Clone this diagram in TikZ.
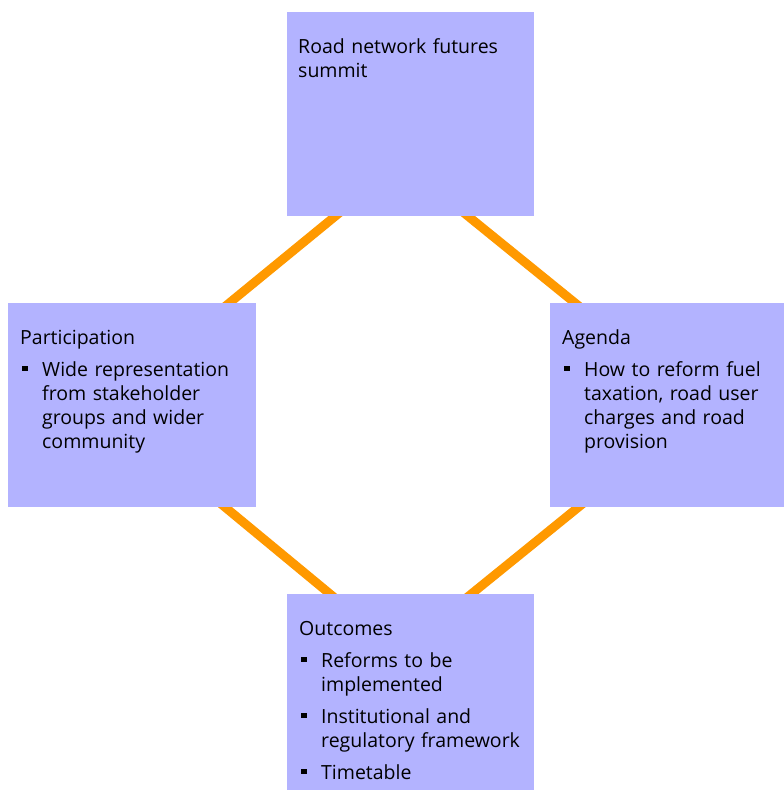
\documentclass[tikz,border=0pt]{standalone}
\usepackage{fontspec}
\setmainfont{Open Sans}
\usetikzlibrary{calc}
\pgfdeclarelayer{bg}
\pgfsetlayers{bg,main}
\definecolor{boxfill}{RGB}{179,179,255}
\definecolor{linkorange}{RGB}{255,153,0}
\newcommand{\bul}{\hspace*{2pt}\makebox[20pt][l]{\rule[5pt]{5.5pt}{5.5pt}}}
\tikzset{
  box/.style={rectangle, fill=boxfill, draw=none, inner sep=0pt, anchor=north west},
  boxtext/.style={anchor=base west, inner sep=0pt, text width=260pt, align=left,
    font=\fontsize{19.5pt}{24pt}\selectfont, text=black},
  link/.style={draw=linkorange, line width=9pt, shorten <=-10pt, shorten >=-10pt}
}
\begin{document}
\begin{tikzpicture}[x=1pt,y=-1pt]
\useasboundingbox (0,0) rectangle (784,790);
\node[box, minimum width=247pt, minimum height=204pt] (top) at (287,12) {};
\node[box, minimum width=248pt, minimum height=204pt] (left) at (8,303) {};
\node[box, minimum width=234pt, minimum height=204pt] (right) at (550,303) {};
\node[box, minimum width=247pt, minimum height=196pt] (bottom) at (287,594) {};
\begin{pgfonlayer}{bg}
\draw[link] ($(top.south west)!0.194!(top.south east)$) -- ($(left.north west)!0.891!(left.north east)$);
\draw[link] ($(top.south west)!0.733!(top.south east)$) -- ($(right.north west)!0.107!(right.north east)$);
\draw[link] ($(left.south west)!0.875!(left.south east)$) -- ($(bottom.north west)!0.174!(bottom.north east)$);
\draw[link] ($(right.south west)!0.12!(right.south east)$) -- ($(bottom.north west)!0.745!(bottom.north east)$);
\end{pgfonlayer}
\node[boxtext] (toptext) at ($(top.north west)+(11,41)$) {Road network futures\newline summit};
\node[boxtext] (lefttext) at ($(left.north west)+(12,41)$) {Participation\par\vspace{8pt}
\hangindent=22pt\hangafter=1\bul Wide representation\newline from stakeholder\newline groups and wider\newline community\par};
\node[boxtext] (righttext) at ($(right.north west)+(12,41)$) {Agenda\par\vspace{8pt}
\hangindent=22pt\hangafter=1\bul How to reform fuel\newline taxation, road user\newline charges and road\newline provision\par};
\node[boxtext] (bottomtext) at ($(bottom.north west)+(12,41)$) {Outcomes\par\vspace{8pt}
\hangindent=22pt\hangafter=1\bul Reforms to be\newline implemented\par\vspace{8pt}
\hangindent=22pt\hangafter=1\bul Institutional and\newline regulatory framework\par\vspace{8pt}
\hangindent=22pt\hangafter=1\bul Timetable\par};
\end{tikzpicture}
\end{document}
